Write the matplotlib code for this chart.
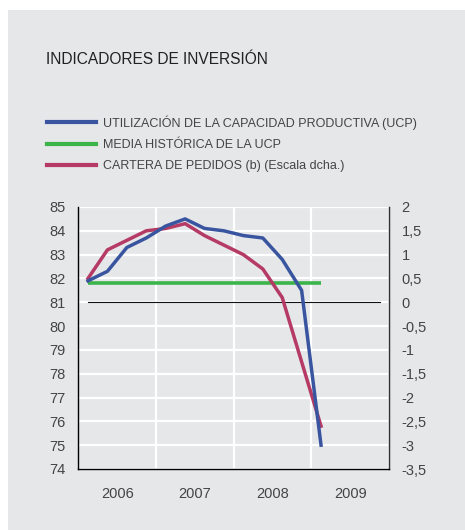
import matplotlib
matplotlib.use("Agg")
import matplotlib.pyplot as plt
from matplotlib.lines import Line2D
from matplotlib.patches import Rectangle

# quarterly data, 2006 Q1 - 2009 Q1
years = [2006, 2006, 2006, 2006, 2007, 2007, 2007, 2007, 2008, 2008, 2008, 2008, 2009]
quarters = [1, 2, 3, 4, 1, 2, 3, 4, 1, 2, 3, 4, 1]
ucp = [81.9, 82.3, 83.3, 83.7, 84.2, 84.5, 84.1, 84.0, 83.8, 83.7, 82.8, 81.5, 75.0]
ucp_mean = [81.8] * 13
pedidos = [0.5, 1.1, 1.3, 1.5, 1.55, 1.65, 1.4, 1.2, 1.0, 0.7, 0.1, -1.25, -2.6]

year_labels = ["2006", "2007", "2008", "2009"]
left_ticks = list(range(74, 86))
right_ticks = [-3.5, -3, -2.5, -2, -1.5, -1, -0.5, 0, 0.5, 1, 1.5, 2]

x = [y + (q - 0.5) / 4 for y, q in zip(years, quarters)]

BG = "#e6e7e9"
BLUE = "#3a55a0"
GREEN = "#3bb54a"
RED = "#b53a64"
TXT = "#444444"

plt.rcParams["font.family"] = ["Liberation Sans", "DejaVu Sans"]

fig = plt.figure(figsize=(4.65, 5.3), dpi=100)
fig.patch.set_facecolor("white")
fig.patches.append(Rectangle((8 / 465, 0), 1, 1 - 10 / 530, transform=fig.transFigure,
                             facecolor=BG, edgecolor="none", zorder=-10))

ax = fig.add_axes([78.3 / 465, 1 - 469 / 530, (389 - 78.3) / 465, (469 - 207) / 530])
ax.set_facecolor(BG)
ax.set_xlim(2006, 2010)
ax.set_ylim(74, 85)
ax.set_yticks(left_ticks)
ax.set_xticks([2006, 2007, 2008, 2009, 2010])
ax.set_xticklabels([])
ax.set_xticks([2006.5, 2007.5, 2008.5, 2009.5], minor=True)
ax.set_xticklabels(year_labels, minor=True)
ax.grid(True, color="white", linewidth=1.6)
ax.set_axisbelow(True)
ax.tick_params(axis="both", which="both", length=0, labelsize=10.5, labelcolor=TXT)
ax.tick_params(axis="y", pad=9)
ax.tick_params(axis="x", which="minor", pad=13)
for s in ["left", "bottom", "right"]:
    ax.spines[s].set_color("#333333")
    ax.spines[s].set_linewidth(1.0)
ax.spines["top"].set_visible(False)

ax2 = ax.twinx()
ax2.set_ylim(-3.5, 2)
ax2.set_yticks(right_ticks)
ax2.set_yticklabels([("%g" % v).replace(".", ",") for v in right_ticks])
ax2.tick_params(axis="y", length=0, labelsize=10.5, labelcolor=TXT, pad=9)
ax2.spines["top"].set_visible(False)
ax2.spines["right"].set_color("#333333")

# everything drawn on the top axes so the grid stays underneath
ax2.axhline(0, xmin=0.03, xmax=0.97, color="#111111", linewidth=0.8, zorder=1)
ax2.plot(x, ucp_mean, color=GREEN, linewidth=2.6, solid_capstyle="butt", zorder=3,
         transform=ax.transData)
ax2.plot(x, pedidos, color=RED, linewidth=2.5, zorder=3)
ax2.plot(x, ucp, color=BLUE, linewidth=2.5, zorder=4, transform=ax.transData)

fig.text(46 / 465, 1 - 60 / 530, "INDICADORES DE INVERSIÓN", fontsize=11.2, color="#222222",
         va="center", ha="left")

handles = [Line2D([], [], color=BLUE, linewidth=3),
           Line2D([], [], color=GREEN, linewidth=3),
           Line2D([], [], color=RED, linewidth=3)]
labels = ["UTILIZACIÓN DE LA CAPACIDAD PRODUCTIVA (UCP)",
          "MEDIA HISTÓRICA DE LA UCP",
          "CARTERA DE PEDIDOS (b) (Escala dcha.)"]
fig.legend(handles, labels, loc="upper left", bbox_to_anchor=(47 / 465, 1 - 115 / 530),
           frameon=False, fontsize=9, handlelength=3.9, handletextpad=0.55,
           labelspacing=0.75, labelcolor=TXT, borderaxespad=0, borderpad=0)

fig.savefig("out.png", dpi=100, facecolor=fig.get_facecolor())
